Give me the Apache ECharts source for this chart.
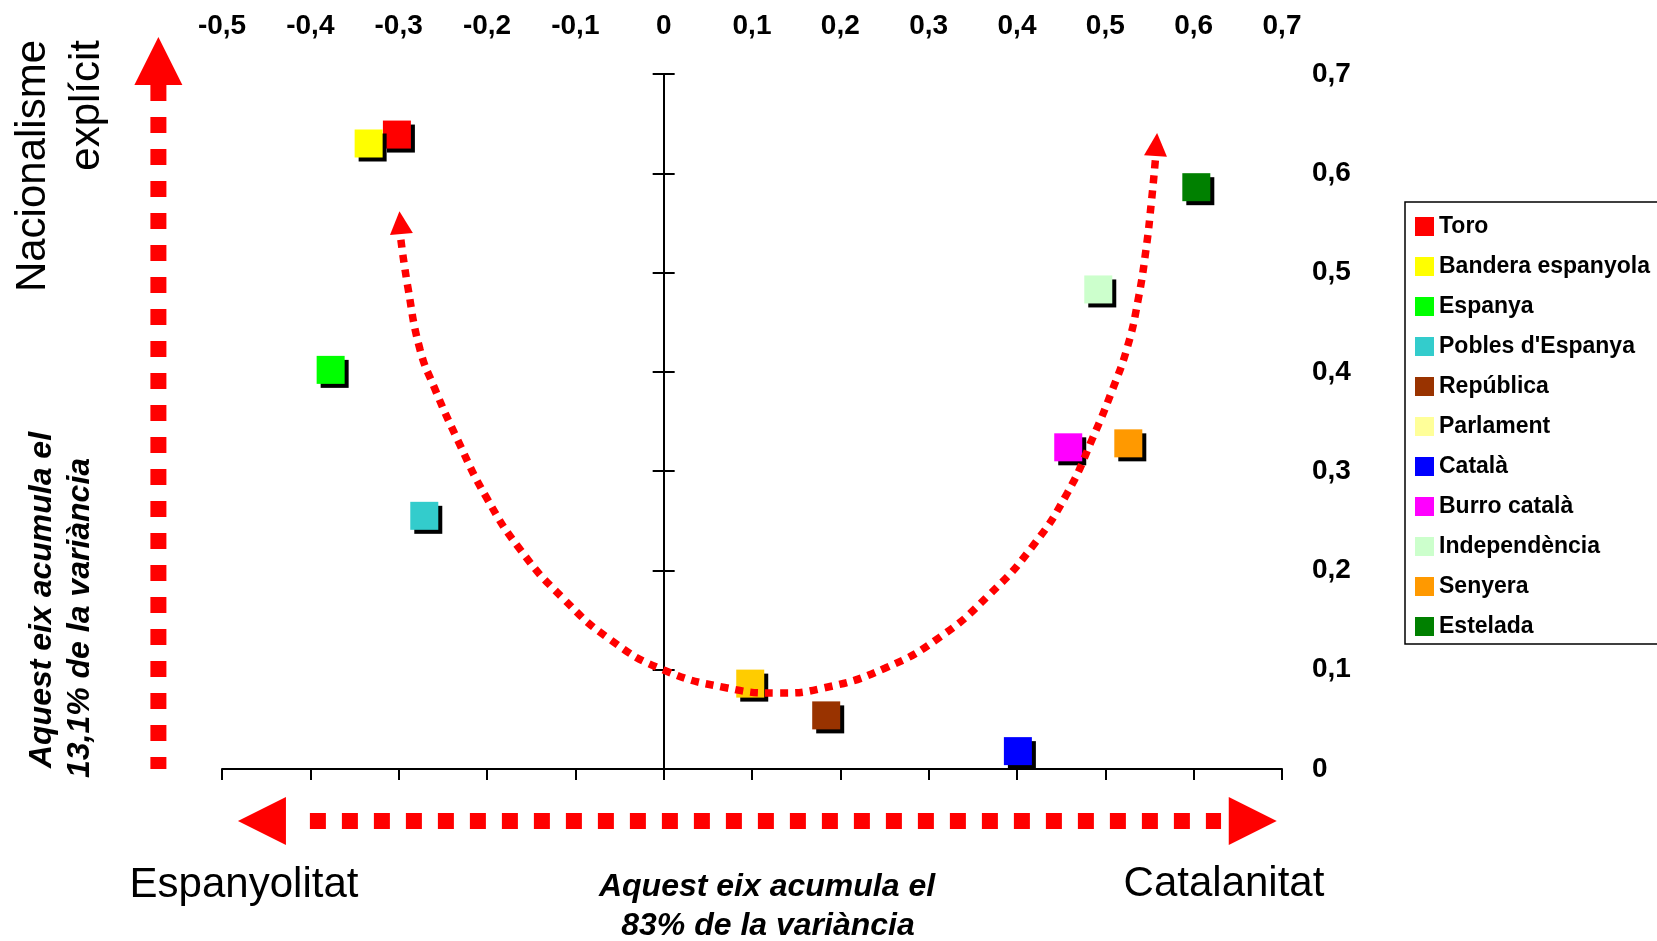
<!DOCTYPE html>
<html>
<head>
<meta charset="utf-8">
<script src="https://cdn.jsdelivr.net/npm/echarts@6/dist/echarts.min.js"></script>
<style>
html,body{margin:0;padding:0;background:#fff;}
#chart{width:1657px;height:941px;}
</style>
</head>
<body>
<div id="chart"></div>
<script>
// ---- Data ----
const categories = ['Toro', 'Bandera espanyola', 'Espanya', "Pobles d'Espanya", 'República', 'Parlament', 'Català', 'Burro català', 'Independència', 'Senyera', 'Estelada'];
const xValues = [-0.302, -0.334, -0.377, -0.271, 0.184, 0.098, 0.401, 0.458, 0.492, 0.526, 0.603];
const yValues = [0.639, 0.630, 0.402, 0.255, 0.054, 0.086, 0.018, 0.324, 0.483, 0.328, 0.586];
const pointColors = ['#FF0000', '#FFFF00', '#00FF00', '#33CCCC', '#993300', '#FFCC00', '#0000FF', '#FF00FF', '#CCFFCC', '#FF9900', '#008000'];
const legendColors = ['#FF0000', '#FFFF00', '#00FF00', '#33CCCC', '#993300', '#FFFF99', '#0000FF', '#FF00FF', '#CCFFCC', '#FF9900', '#008000'];

// Dotted U-shaped curve (data coordinates)
const curveX = [-0.2975, -0.2896, -0.276, -0.260, -0.233, -0.201, -0.162, -0.114, -0.060, 0.000, 0.072, 0.129, 0.181, 0.251, 0.313, 0.368, 0.417, 0.457, 0.486, 0.508, 0.525, 0.537, 0.546, 0.552, 0.5566];
const curveY = [0.533, 0.4854, 0.423, 0.385, 0.331, 0.274, 0.2205, 0.172, 0.130, 0.0997, 0.0816, 0.0765, 0.0816, 0.1017, 0.133, 0.175, 0.2236, 0.278, 0.334, 0.382, 0.425, 0.472, 0.523, 0.570, 0.613];
const curveHeads = [[-0.298, 0.5503, 5], [0.5577, 0.6289, -4]]; // x, y, rotation

// Big axis arrows (data coordinates)
const vArrowStem = [[-0.572, 0.689], [-0.572, 0]];
const vArrowHead = [[-0.572, 0.713, 0]];
const hArrowStem = [[-0.4005, -0.0524], [0.631, -0.0524]];
const hArrowHeads = [[-0.4548, -0.0524, 90], [0.6669, -0.0524, -90]];

const FONT = "'Liberation Sans', Arial, Helvetica, sans-serif";
const fmt = v => String(+Number(v).toFixed(1)).replace('.', ',');

const chart = echarts.init(document.getElementById('chart'), null, {renderer: 'canvas'});

const series = categories.map((name, i) => ({
  name: name,
  type: 'scatter',
  symbol: 'rect',
  symbolSize: 28,
  data: [[xValues[i], yValues[i]]],
  itemStyle: {
    color: pointColors[i],
    opacity: 1,
    shadowColor: '#000',
    shadowBlur: 0,
    shadowOffsetX: 4,
    shadowOffsetY: 4
  },
  z: 3,
  silent: true
}));

series.push({
  type: 'line',
  data: curveX.map((x, i) => [x, curveY[i]]),
  smooth: 0.5,
  symbol: 'none',
  showSymbol: false,
  clip: false,
  silent: true,
  z: 5,
  lineStyle: {color: '#FF0000', width: 7.5, type: [8, 7], cap: 'butt', opacity: 1}
});
series.push({
  type: 'scatter',
  data: curveHeads.map(d => ({value: [d[0], d[1]], symbolRotate: d[2]})),
  symbol: 'triangle',
  symbolSize: [23, 23],
  clip: false,
  silent: true,
  z: 5,
  itemStyle: {color: '#FF0000', opacity: 1}
});
// vertical stem drawn as custom series
series.push({
  type: 'custom',
  clip: false,
  silent: true,
  z: 4,
  data: [[vArrowStem[0][0], vArrowStem[0][1], vArrowStem[1][0], vArrowStem[1][1]]],
  renderItem: function (params, api) {
    const p1 = api.coord([api.value(0), api.value(1)]);
    const p2 = api.coord([api.value(2), api.value(3)]);
    return {
      type: 'line',
      shape: {x1: p1[0], y1: p1[1], x2: p2[0], y2: p2[1]},
      style: {stroke: '#FF0000', lineWidth: 16, lineDash: [16, 16], lineCap: 'butt', fill: null}
    };
  }
});
series.push({
  type: 'line',
  data: hArrowStem,
  symbol: 'none',
  showSymbol: false,
  clip: false,
  silent: true,
  z: 4,
  lineStyle: {color: '#FF0000', width: 16, type: [16, 16], cap: 'butt', opacity: 1}
});
series.push({
  type: 'scatter',
  data: vArrowHead.map(d => ({value: [d[0], d[1]], symbolRotate: d[2]})).concat(
        hArrowHeads.map(d => ({value: [d[0], d[1]], symbolRotate: d[2]}))),
  symbol: 'triangle',
  symbolSize: [48, 48],
  clip: false,
  silent: true,
  z: 4,
  itemStyle: {color: '#FF0000', opacity: 1}
});

const axisLineStyle = {color: '#000', width: 2};

const option = {
  animation: false,
  backgroundColor: '#fff',
  grid: {left: 222, top: 74, width: 1060, height: 695, containLabel: false},
  xAxis: [
    {
      type: 'value', min: -0.5, max: 0.7, interval: 0.1, position: 'bottom',
      axisLine: {show: true, onZero: false, lineStyle: axisLineStyle},
      axisTick: {show: true, length: 11, lineStyle: axisLineStyle},
      axisLabel: {show: false},
      splitLine: {show: false}
    },
    {
      type: 'value', min: -0.5, max: 0.7, interval: 0.1, position: 'top',
      axisLine: {show: false, onZero: false},
      axisTick: {show: false},
      axisLabel: {show: true, margin: 34, showMinLabel: true, showMaxLabel: true,
        fontFamily: FONT, fontSize: 28, fontWeight: 'bold', color: '#000', formatter: fmt},
      splitLine: {show: false}
    }
  ],
  yAxis: [
    {
      type: 'value', min: 0, max: 0.7, interval: 0.1, position: 'left',
      axisLine: {show: true, onZero: true, onZeroAxisIndex: 0, lineStyle: axisLineStyle},
      axisTick: {show: true, length: 11, lineStyle: axisLineStyle},
      axisLabel: {show: false},
      splitLine: {show: false}
    },
    {
      type: 'value', min: 0, max: 0.7, interval: 0.1, position: 'right',
      axisLine: {show: true, onZero: true, onZeroAxisIndex: 0, lineStyle: axisLineStyle},
      axisTick: {show: true, length: 11, lineStyle: axisLineStyle},
      axisLabel: {show: false},
      splitLine: {show: false}
    },
    {
      type: 'value', min: 0, max: 0.7, interval: 0.1, position: 'right',
      axisLine: {show: false, onZero: false},
      axisTick: {show: false},
      axisLabel: {show: true, margin: 30, showMinLabel: true, showMaxLabel: true,
        fontFamily: FONT, fontSize: 28, fontWeight: 'bold', color: '#000', formatter: fmt,
        padding: [8, 0, 0, 0]},
      splitLine: {show: false}
    }
  ],
  legend: {
    orient: 'vertical',
    left: 1405,
    top: 202,
    padding: [13, 400, 6, 10],
    itemWidth: 19,
    itemHeight: 19,
    itemGap: 17,
    icon: 'rect',
    selectedMode: false,
    borderColor: '#000',
    borderWidth: 1.5,
    backgroundColor: '#fff',
    itemStyle: {shadowBlur: 0, shadowColor: 'rgba(0,0,0,0)', shadowOffsetX: 0, shadowOffsetY: 0, borderWidth: 0},
    textStyle: {fontFamily: FONT, fontSize: 23, fontWeight: 'bold', color: '#000', lineHeight: 19},
    data: categories.map((name, i) => ({name: name, itemStyle: {color: legendColors[i]}}))
  },
  graphic: [
    {type: 'text', x: 33, y: 40, rotation: Math.PI / 2, silent: true,
      style: {text: 'Nacionalisme', font: '42px ' + FONT, fill: '#000', align: 'right', verticalAlign: 'middle'}},
    {type: 'text', x: 87, y: 40, rotation: Math.PI / 2, silent: true,
      style: {text: 'explícit', font: '42px ' + FONT, fill: '#000', align: 'right', verticalAlign: 'middle'}},
    {type: 'text', x: 42.5, y: 600, rotation: Math.PI / 2, silent: true,
      style: {text: 'Aquest eix acumula el', font: 'italic bold 32px ' + FONT, fill: '#000', align: 'center', verticalAlign: 'middle'}},
    {type: 'text', x: 80, y: 618, rotation: Math.PI / 2, silent: true,
      style: {text: '13,1% de la variància', font: 'italic bold 32px ' + FONT, fill: '#000', align: 'center', verticalAlign: 'middle'}},
    {type: 'text', x: 244, y: 885, silent: true,
      style: {text: 'Espanyolitat', font: '42px ' + FONT, fill: '#000', align: 'center', verticalAlign: 'middle'}},
    {type: 'text', x: 1224, y: 884, silent: true,
      style: {text: 'Catalanitat', font: '42px ' + FONT, fill: '#000', align: 'center', verticalAlign: 'middle'}},
    {type: 'text', x: 767, y: 887, silent: true,
      style: {text: 'Aquest eix acumula el', font: 'italic bold 32px ' + FONT, fill: '#000', align: 'center', verticalAlign: 'middle'}},
    {type: 'text', x: 768, y: 926, silent: true,
      style: {text: '83% de la variància', font: 'italic bold 32px ' + FONT, fill: '#000', align: 'center', verticalAlign: 'middle'}}
  ],
  series: series
};

chart.setOption(option);
</script>
</body>
</html>
